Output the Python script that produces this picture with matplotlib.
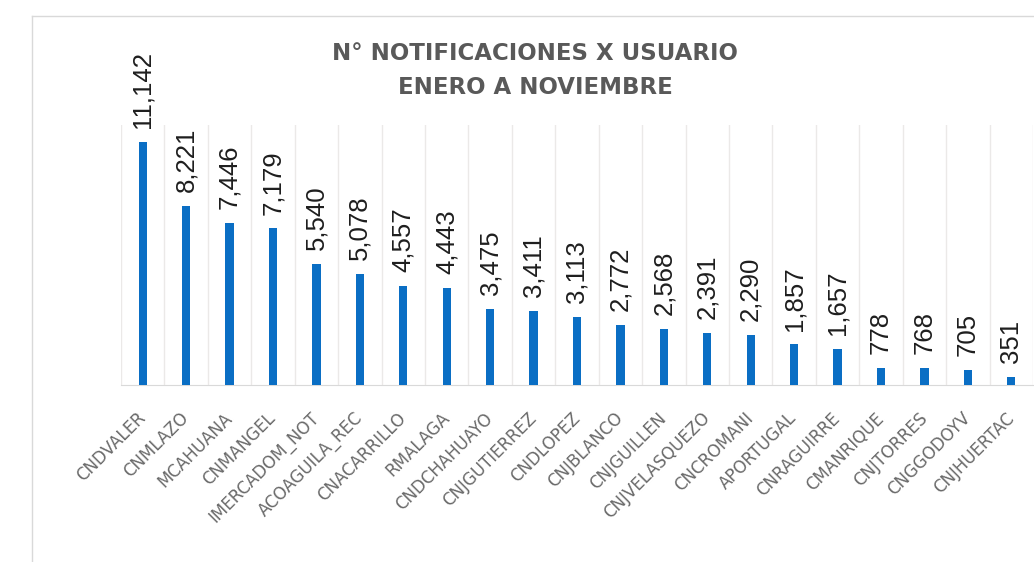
import numpy as np
import matplotlib
matplotlib.use("Agg")
import matplotlib.pyplot as plt
from matplotlib.lines import Line2D

# datos: notificaciones por usuario, enero a noviembre
usuarios = ['CNDVALER', 'CNMLAZO', 'MCAHUANA', 'CNMANGEL', 'IMERCADOM_NOT',
            'ACOAGUILA_REC', 'CNACARRILLO', 'RMALAGA', 'CNDCHAHUAYO', 'CNJGUTIERREZ',
            'CNDLOPEZ', 'CNJBLANCO', 'CNJGUILLEN', 'CNJVELASQUEZO', 'CNCROMANI',
            'APORTUGAL', 'CNRAGUIRRE', 'CMANRIQUE', 'CNJTORRES', 'CNGGODOYV',
            'CNJHUERTAC']
notificaciones = [11142, 8221, 7446, 7179, 5540, 5078, 4557, 4443, 3475, 3411,
                  3113, 2772, 2568, 2391, 2290, 1857, 1657, 778, 768, 705, 351]

W, H = 1034, 562
fig = plt.figure(figsize=(W/100, H/100), dpi=100)
fig.patch.set_facecolor('white')

# marco exterior del grafico (recortado a la derecha y abajo)
fig.add_artist(Line2D([32/W, 32/W], [0, 1-16/H], color='#d9d9d9', lw=1))
fig.add_artist(Line2D([32/W, 1], [1-16/H, 1-16/H], color='#d9d9d9', lw=1))

ax = fig.add_axes([121/W, 1-385/H, (1033-121)/W, (385-125)/H])
x = np.arange(len(usuarios))
ax.bar(x, notificaciones, width=0.19, color='#0a6ec4', zorder=3)
ax.set_xlim(-0.5, len(usuarios)-0.5)
ax.set_ylim(0, 11921)

for i, v in enumerate(notificaciones):
    ax.annotate(f'{v:,}', (i, v), xytext=(0, 10), textcoords='offset points',
                rotation=90, ha='center', va='bottom', fontsize=18.5,
                family='Liberation Sans', color='#1e1e1e')

ax.set_xticks(x)
ax.set_xticklabels(usuarios, rotation=45, ha='right', va='center',
                   rotation_mode='anchor', fontsize=12, family='DejaVu Sans',
                   color='#6a6a6a')
ax.set_xticks(np.arange(-0.5, len(usuarios)), minor=True)
ax.tick_params(axis='x', which='major', length=0, pad=22)
ax.tick_params(axis='x', which='minor', length=0)
ax.grid(which='minor', axis='x', color='#ebe9e8', lw=1, zorder=0)
ax.set_yticks([])
for s in ['left', 'right', 'top']:
    ax.spines[s].set_visible(False)
ax.spines['bottom'].set_color('#d9d9d9')

fig.text(535/W, 1-54/H, 'N° NOTIFICACIONES X USUARIO', ha='center', va='center',
         fontsize=16.5, fontweight='bold', family='DejaVu Sans', color='#595959')
fig.text(535/W, 1-88/H, 'ENERO A NOVIEMBRE', ha='center', va='center',
         fontsize=16.5, fontweight='bold', family='DejaVu Sans', color='#595959')

fig.savefig('out.png', dpi=100)
